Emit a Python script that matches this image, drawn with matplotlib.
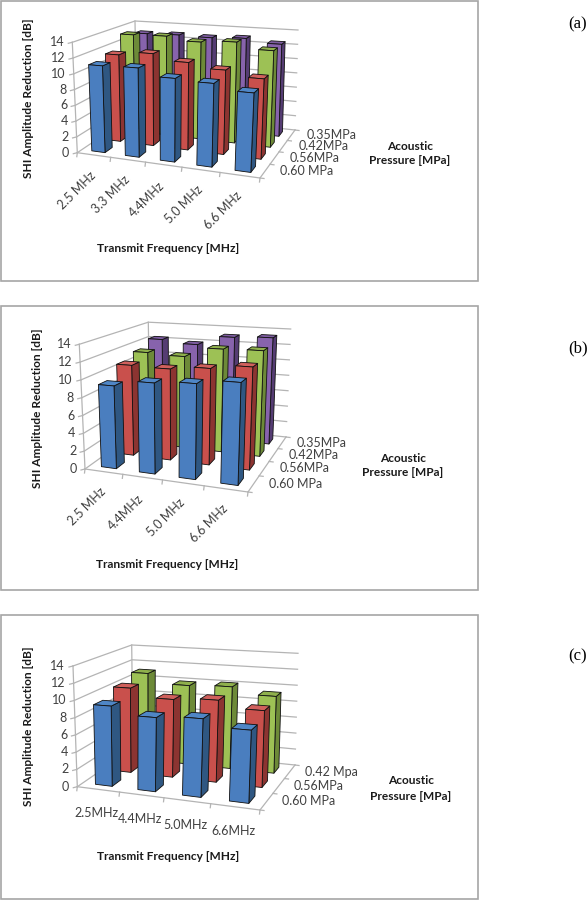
import numpy as np
import matplotlib
matplotlib.use("Agg")
import matplotlib.pyplot as plt
from matplotlib.patches import Polygon, Rectangle

plt.rcParams["font.family"] = ["Lato", "DejaVu Sans"]

# ── data (dB) ─────────────────────────────
freq_a = ["2.5 MHz", "3.3 MHz", "4.4MHz", "5.0 MHz", "6.6 MHz"]
press_a = ["0.60 MPa", "0.56MPa", "0.42MPa", "0.35MPa"]
a_060 = [11.0, 11.1, 10.2, 10.0, 9.3]
a_056 = [11.5, 12.0, 11.2, 10.6, 9.9]
a_042 = [13.4, 13.5, 13.0, 13.3, 12.5]
a_035 = [12.8, 12.9, 12.8, 13.0, 12.5]

freq_b = ["2.5 MHz", "4.4MHz", "5.0 MHz", "6.6 MHz"]
press_b = ["0.60 MPa", "0.56MPa", "0.42MPa", "0.35MPa"]
b_060 = [9.3, 10.0, 10.3, 10.8]
b_056 = [10.7, 10.6, 11.0, 11.5]
b_042 = [11.4, 11.2, 12.4, 12.5]
b_035 = [12.3, 11.9, 13.1, 13.3]

freq_c = ["2.5MHz", "4.4MHz", "5.0MHz", "6.6MHz"]
press_c = ["0.60 MPa", "0.56MPa", "0.42 Mpa"]
c_060 = [9.3, 8.4, 8.7, 7.9]
c_056 = [10.3, 9.3, 9.6, 8.8]
c_042 = [11.1, 9.9, 10.1, 9.3]

z_ticks = [0, 2, 4, 6, 8, 10, 12, 14]
z_max = 14

# front, side, top
colors = [("#4A7EBF", "#2F5782", "#4F86C6"),
          ("#C9504C", "#8C3431", "#D0605C"),
          ("#9DC155", "#6D8A38", "#8FB04C"),
          ("#8763AC", "#553C73", "#7D5CA0")]


def homography(quad):
    # unit square -> quad
    src = [(0, 0), (1, 0), (1, 1), (0, 1)]
    A, b = [], []
    for (x, y), (X, Y) in zip(src, quad):
        A.append([x, y, 1, 0, 0, 0, -x * X, -y * X])
        A.append([0, 0, 0, x, y, 1, -x * Y, -y * Y])
        b += [X, Y]
    return np.append(np.linalg.solve(np.array(A, float), np.array(b, float)), 1).reshape(3, 3)


def make_proj(floor, top, n, m):
    hf, ht = homography(floor), homography(top)

    def apply(h, u, v):
        p = h @ np.array([u, v, 1.0])
        return p[:2] / p[2]

    def proj(x, y, z):
        u, v = x / n, y / m
        return tuple(apply(hf, u, v) + (apply(ht, u, v) - apply(hf, u, v)) * z / z_max)
    return proj


def draw_panel(ax, freqs, press, series, floor, top, frame, titles, tag, x_rot, x_off):
    n, m = len(freqs), len(press)
    proj = make_proj(floor, top, n, m)
    ax.add_patch(Rectangle((frame[0], frame[1]), frame[2] - frame[0], frame[3] - frame[1],
                           fc="white", ec="#a6a6a6", lw=1.2, zorder=0))

    grid = dict(color="#b4b4b4", lw=0.9, zorder=1)
    for z in z_ticks:
        pts = [proj(0, 0, z), proj(0, m, z), proj(n, m, z)]
        ax.plot(*zip(*pts), **grid)
        x0, y0 = pts[0]
        ax.plot([x0 - 4, x0], [y0 + 1, y0], **grid)
        ax.text(x0 - 8, y0, str(z), ha="right", va="center", fontsize=9.0, color="#404040")
    ax.plot(*zip(proj(0, 0, 0), proj(0, 0, z_max)), **grid)
    ax.plot(*zip(proj(0, m, 0), proj(0, m, z_max)), **grid)
    ax.plot(*zip(proj(0, 0, 0), proj(n, 0, 0), proj(n, m, 0)), **grid)

    # ticks on the floor edges
    for i in range(n + 1):
        x0, y0 = proj(i, 0, 0)
        ax.plot([x0, x0 - 0.5], [y0, y0 + 4], **grid)
    for j in range(m + 1):
        x0, y0 = proj(n, j, 0)
        ax.plot([x0, x0 + 4], [y0, y0 + 0.5], **grid)

    # bars, back row first
    bw, bd = 0.40, 0.45
    for j in range(m - 1, -1, -1):
        front, side, topc = colors[j]
        for i in range(n):
            val = series[j][i]
            x0, x1 = i + 0.5 - bw / 2, i + 0.5 + bw / 2
            y0, y1 = j + 0.5 - bd / 2, j + 0.5 + bd / 2
            kw = dict(ec="#101010", lw=0.6, joinstyle="round", zorder=3)
            ax.add_patch(Polygon([proj(x1, y0, 0), proj(x1, y1, 0), proj(x1, y1, val), proj(x1, y0, val)], fc=side, **kw))
            ax.add_patch(Polygon([proj(x0, y0, val), proj(x1, y0, val), proj(x1, y1, val), proj(x0, y1, val)], fc=topc, **kw))
            ax.add_patch(Polygon([proj(x0, y0, 0), proj(x1, y0, 0), proj(x1, y0, val), proj(x0, y0, val)], fc=front, **kw))

    for i, lab in enumerate(freqs):
        x0, y0 = proj(i + 0.5, 0, 0)
        ax.text(x0 + x_off[0], y0 + x_off[1], lab, rotation=x_rot, rotation_mode="anchor",
                ha="center", va="center", fontsize=9.0, color="#404040")
    for j, lab in enumerate(press):
        x0, y0 = proj(n, j + 0.5, 0)
        ax.text(x0 + 15, y0, lab, ha="left", va="center", fontsize=9.0, color="#404040")

    bold = dict(fontsize=8.6, fontweight="bold", color="#1a1a1a", ha="center", va="center")
    ax.text(*titles["y"], "SHI Amplitude Reduction [dB]", rotation=90, **bold)
    ax.text(*titles["x"], "Transmit Frequency [MHz]", **bold)
    ax.text(*titles["z1"], "Acoustic", **bold)
    ax.text(*titles["z2"], "Pressure [MPa]", **bold)
    ax.text(*titles["tag"], tag, family="Liberation Serif", fontsize=12, color="black",
            ha="center", va="center")


fig = plt.figure(figsize=(5.88, 9.0), dpi=100)
ax = fig.add_axes([0, 0, 1, 1])
ax.set_xlim(0, 588)
ax.set_ylim(900, 0)
ax.axis("off")

# ── (a) ──
draw_panel(ax, freq_a, press_a, [a_060, a_056, a_042, a_035],
           floor=[(77.3, 152.7), (260, 178), (295, 130), (136.5, 112.8)],
           top=[(72.3, 42.3), (265.5, 55.8), (298, 30), (135, 21)],
           frame=(1, 1, 478, 281),
           titles=dict(y=(29, 98.5), x=(168, 249), z1=(410, 146), z2=(410, 161), tag=(578, 24)),
           tag="(a)", x_rot=45, x_off=(-17, 35))

# ── (b) ──
draw_panel(ax, freq_b, press_b, [b_060, b_056, b_042, b_035],
           floor=[(85, 469), (248, 492), (286, 437), (150, 422.4)],
           top=[(79.3, 344.3), (252.5, 355), (290.7, 329), (148.3, 322.2)],
           frame=(1, 306, 478, 590),
           titles=dict(y=(38, 408), x=(167, 565), z1=(403, 458), z2=(403, 473), tag=(578, 348)),
           tag="(b)", x_rot=45, x_off=(-17, 35))

# ── (c) ──
draw_panel(ax, freq_c, press_c, [c_060, c_056, c_042],
           floor=[(77.3, 786.7), (260, 810), (295, 765), (133, 748.5)],
           top=[(73, 666), (264.5, 677), (298, 653.3), (131.7, 645)],
           frame=(1, 615, 478, 899),
           titles=dict(y=(29, 726), x=(168, 857), z1=(411, 781), z2=(411, 797), tag=(578, 656)),
           tag="(c)", x_rot=0, x_off=(-2, 24))

fig.savefig("out.png", dpi=100)
